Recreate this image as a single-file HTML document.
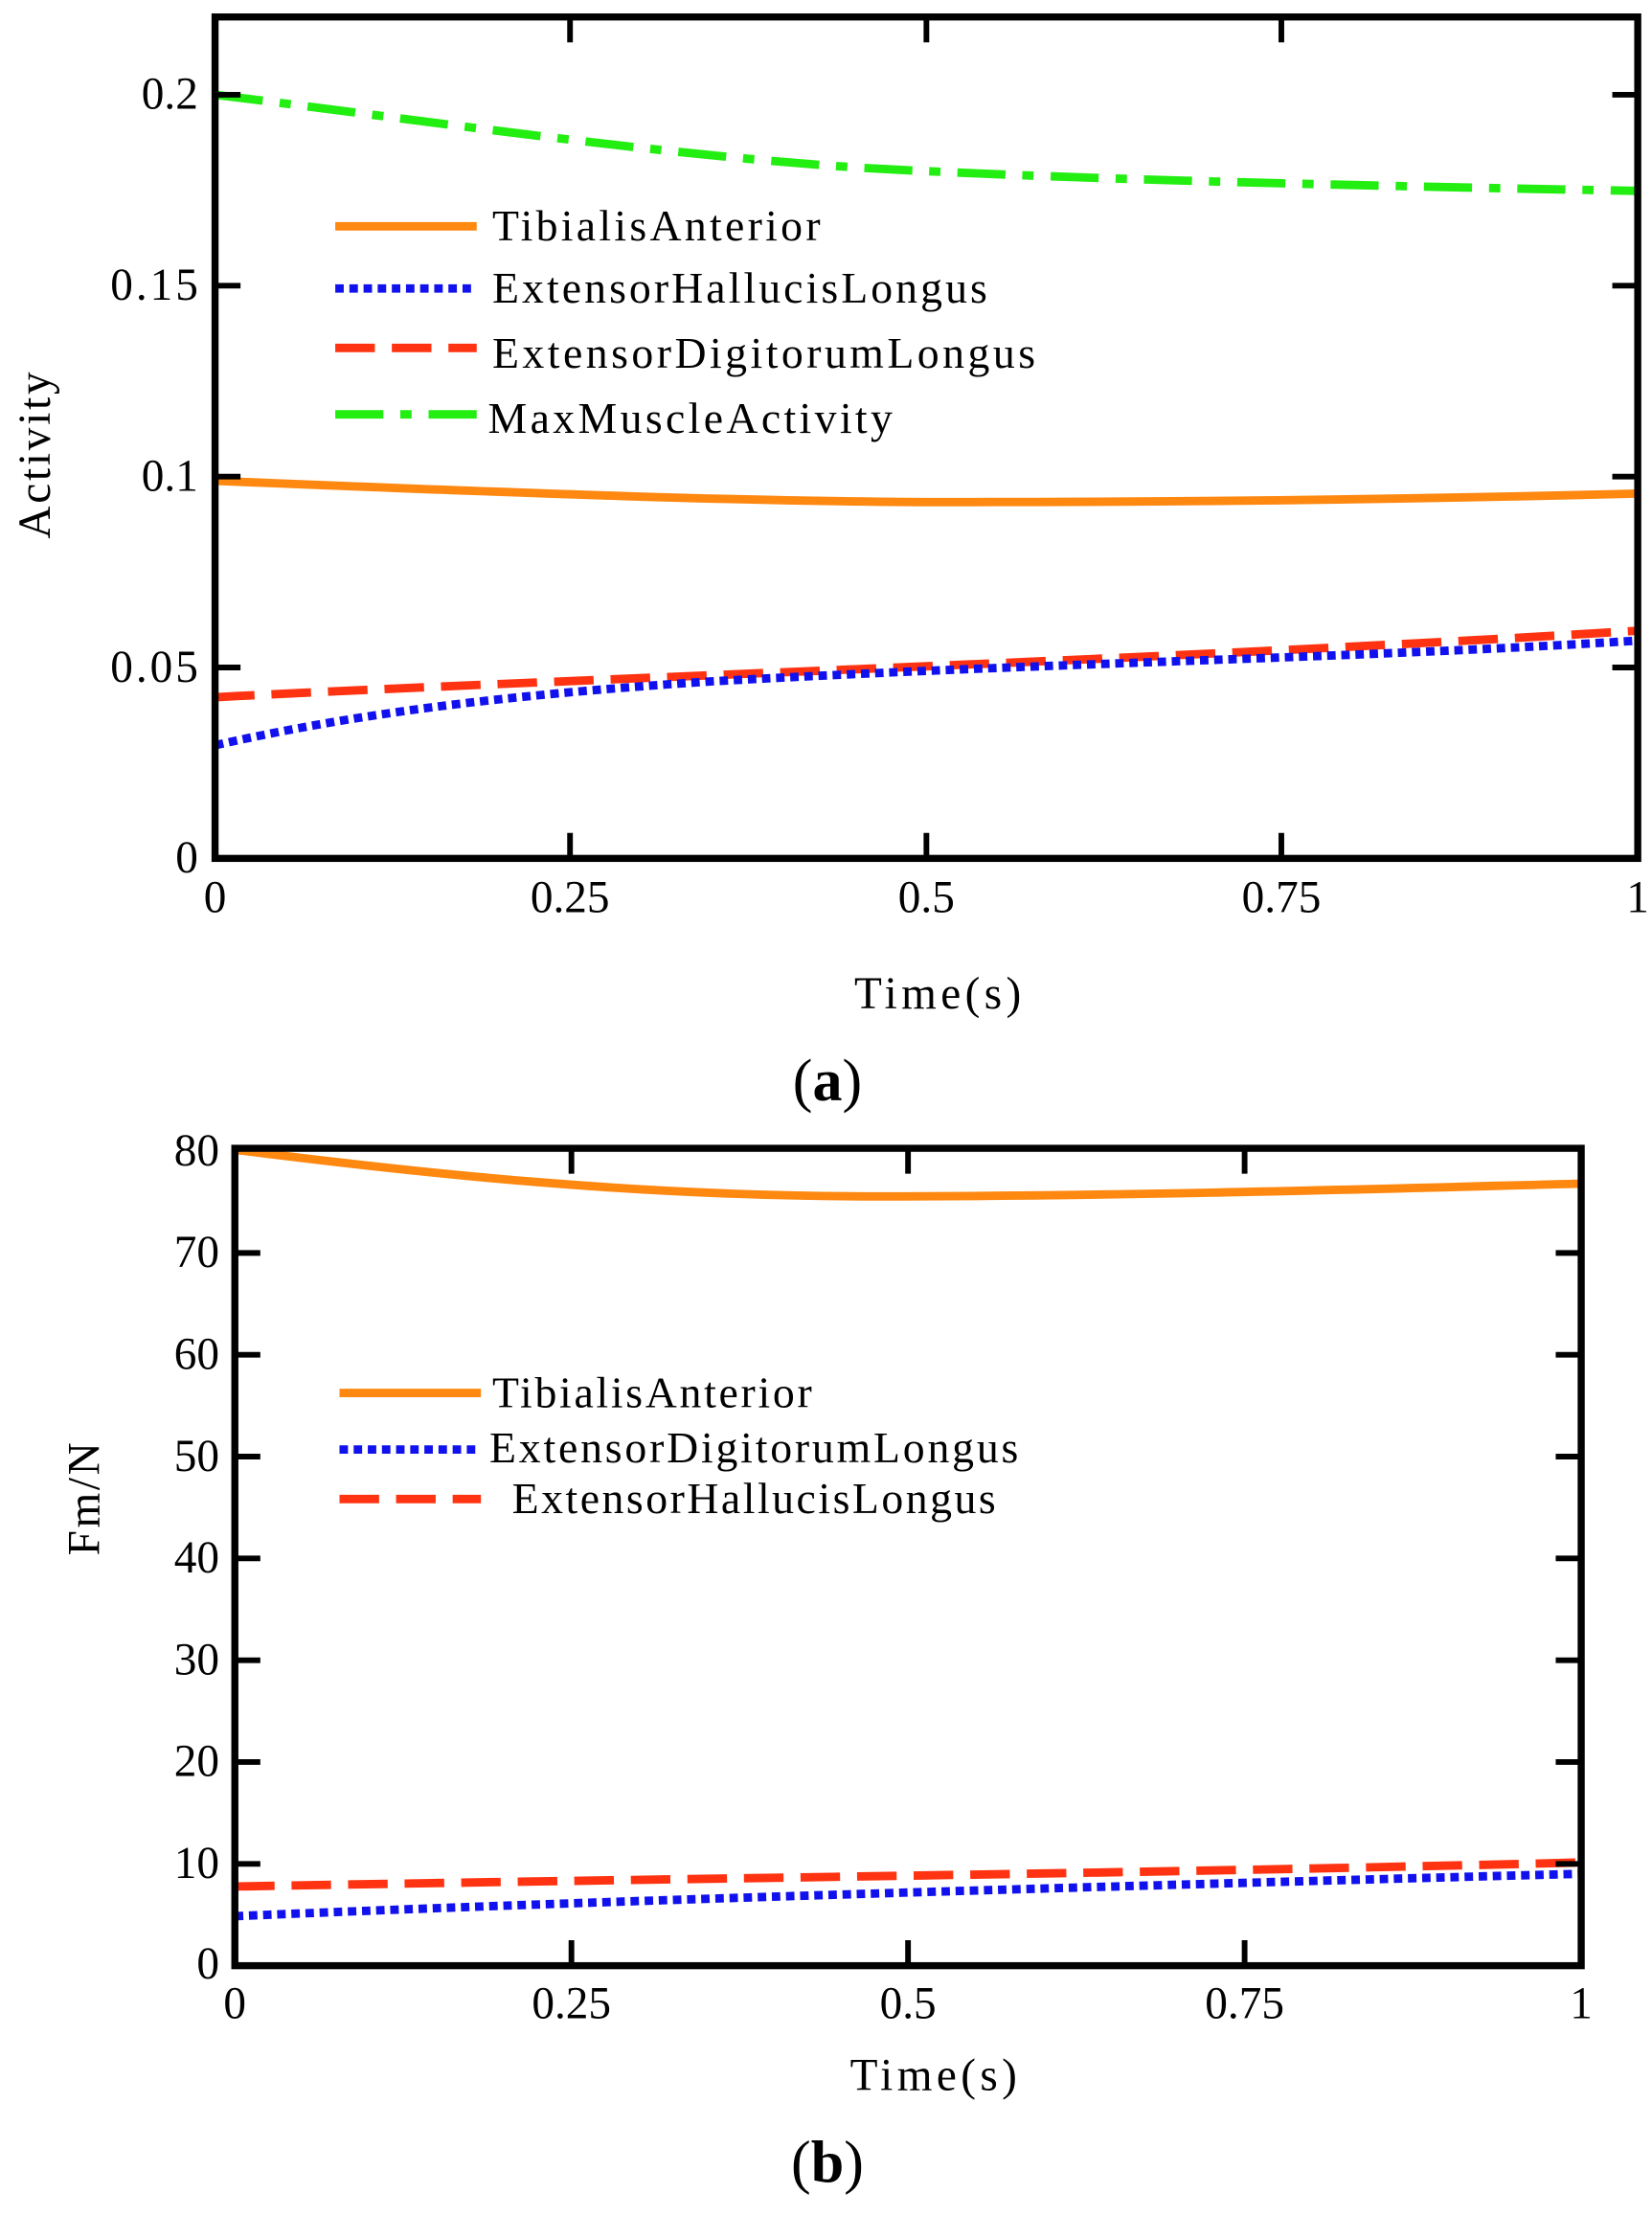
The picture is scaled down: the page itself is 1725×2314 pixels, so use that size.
<!DOCTYPE html>
<html><head><style>
html,body{margin:0;padding:0;background:#fff;}
svg{display:block;}
text{font-family:"Liberation Serif",serif;fill:#000;}
</style></head><body>
<svg width="1725" height="2314" viewBox="0 0 1168 1567" xmlns="http://www.w3.org/2000/svg">
<!-- Panel (a) -->
<g fill="none" stroke-width="6">
<path d="M152,67 C300,85 500,115 655,121 C800,128 1000,132 1158,135" stroke="#22ee11" stroke-dasharray="34,12,8,12"/>
<path d="M152,340 C350,348 550,356 700,355 C850,355 1000,353 1158,349" stroke="#ff8811"/>
<path d="M152,493 C400,480 800,468 1158,446" stroke="#ff3311" stroke-dasharray="28,12"/>
<path d="M152,527 C250,505 350,492 500,482 C750,468 950,466 1158,453" stroke="#1111ee" stroke-dasharray="6,4"/>
</g>
<rect x="152" y="12" width="1006" height="595" fill="none" stroke="#000" stroke-width="5"/>
<g stroke="#000" stroke-width="4">
<path d="M152,472h18M152,337h18M152,202h18M152,67h18M1158,472h-18M1158,337h-18M1158,202h-18M1158,67h-18"/>
<path d="M403,607v-18M655,607v-18M906,607v-18M403,12v18M655,12v18M906,12v18"/>
</g>
<g font-size="32" text-anchor="end">
<text x="140" y="617">0</text><text x="140" y="482" textLength="62">0.05</text><text x="140" y="347">0.1</text><text x="140" y="212" textLength="62">0.15</text><text x="140" y="77">0.2</text>
</g>
<g font-size="32" text-anchor="middle">
<text x="152" y="645">0</text><text x="403" y="645">0.25</text><text x="655" y="645">0.5</text><text x="906" y="645">0.75</text><text x="1158" y="645">1</text>
<text x="663" y="713" textLength="118">Time(s)</text>
<text transform="translate(35,322) rotate(-90)" textLength="118">Activity</text>
<text x="585" y="778" font-size="42"><tspan>(</tspan><tspan font-weight="bold">a</tspan><tspan>)</tspan></text>
</g>
<g fill="none" stroke-width="6">
<path d="M237,160h100" stroke="#ff8811"/>
<path d="M237,204h100" stroke="#1111ee" stroke-dasharray="6,4"/>
<path d="M237,246h100" stroke="#ff3311" stroke-dasharray="28,12"/>
<path d="M237,293h100" stroke="#22ee11" stroke-dasharray="34,12,8,12"/>
</g>
<g font-size="31">
<text x="348" y="170" textLength="232">TibialisAnterior</text>
<text x="348" y="214" textLength="350">ExtensorHallucisLongus</text>
<text x="348" y="260" textLength="384">ExtensorDigitorumLongus</text>
<text x="345" y="306" textLength="286">MaxMuscleActivity</text>
</g>
<!-- Panel (b) -->
<g fill="none" stroke-width="6">
<path d="M166,813 C300,830 450,846 620,846 C800,846 1000,840 1118,837" stroke="#ff8811"/>
<path d="M166,1334 C500,1328 800,1325 1118,1317" stroke="#ff3311" stroke-dasharray="28,12"/>
<path d="M166,1355 C400,1345 700,1336 1118,1325" stroke="#1111ee" stroke-dasharray="6,4"/>
</g>
<rect x="166" y="812" width="952" height="578" fill="none" stroke="#000" stroke-width="5"/>
<g stroke="#000" stroke-width="4">
<path d="M166,1318h18M166,1246h18M166,1174h18M166,1102h18M166,1030h18M166,958h18M166,886h18M1118,1318h-18M1118,1246h-18M1118,1174h-18M1118,1102h-18M1118,1030h-18M1118,958h-18M1118,886h-18"/>
<path d="M404,1390v-18M642,1390v-18M880,1390v-18M404,812v18M642,812v18M880,812v18"/>
</g>
<g font-size="32" text-anchor="end">
<text x="155" y="1399">0</text><text x="155" y="1328">10</text><text x="155" y="1256">20</text><text x="155" y="1184">30</text><text x="155" y="1112">40</text><text x="155" y="1040">50</text><text x="155" y="968">60</text><text x="155" y="896">70</text><text x="155" y="824">80</text>
</g>
<g font-size="32" text-anchor="middle">
<text x="166" y="1427">0</text><text x="404" y="1427">0.25</text><text x="642" y="1427">0.5</text><text x="880" y="1427">0.75</text><text x="1118" y="1427">1</text>
<text x="660" y="1478" textLength="118">Time(s)</text>
<text transform="translate(70,1060) rotate(-90)" textLength="80">Fm/N</text>
<text x="585" y="1543" font-size="42"><tspan>(</tspan><tspan font-weight="bold">b</tspan><tspan>)</tspan></text>
</g>
<g fill="none" stroke-width="6">
<path d="M240,985h100" stroke="#ff8811"/>
<path d="M240,1025h100" stroke="#1111ee" stroke-dasharray="6,4"/>
<path d="M240,1060h100" stroke="#ff3311" stroke-dasharray="28,12"/>
</g>
<g font-size="31">
<text x="348" y="995" textLength="226">TibialisAnterior</text>
<text x="346" y="1034" textLength="374">ExtensorDigitorumLongus</text>
<text x="362" y="1070" textLength="342">ExtensorHallucisLongus</text>
</g>
</svg>
</body></html>
